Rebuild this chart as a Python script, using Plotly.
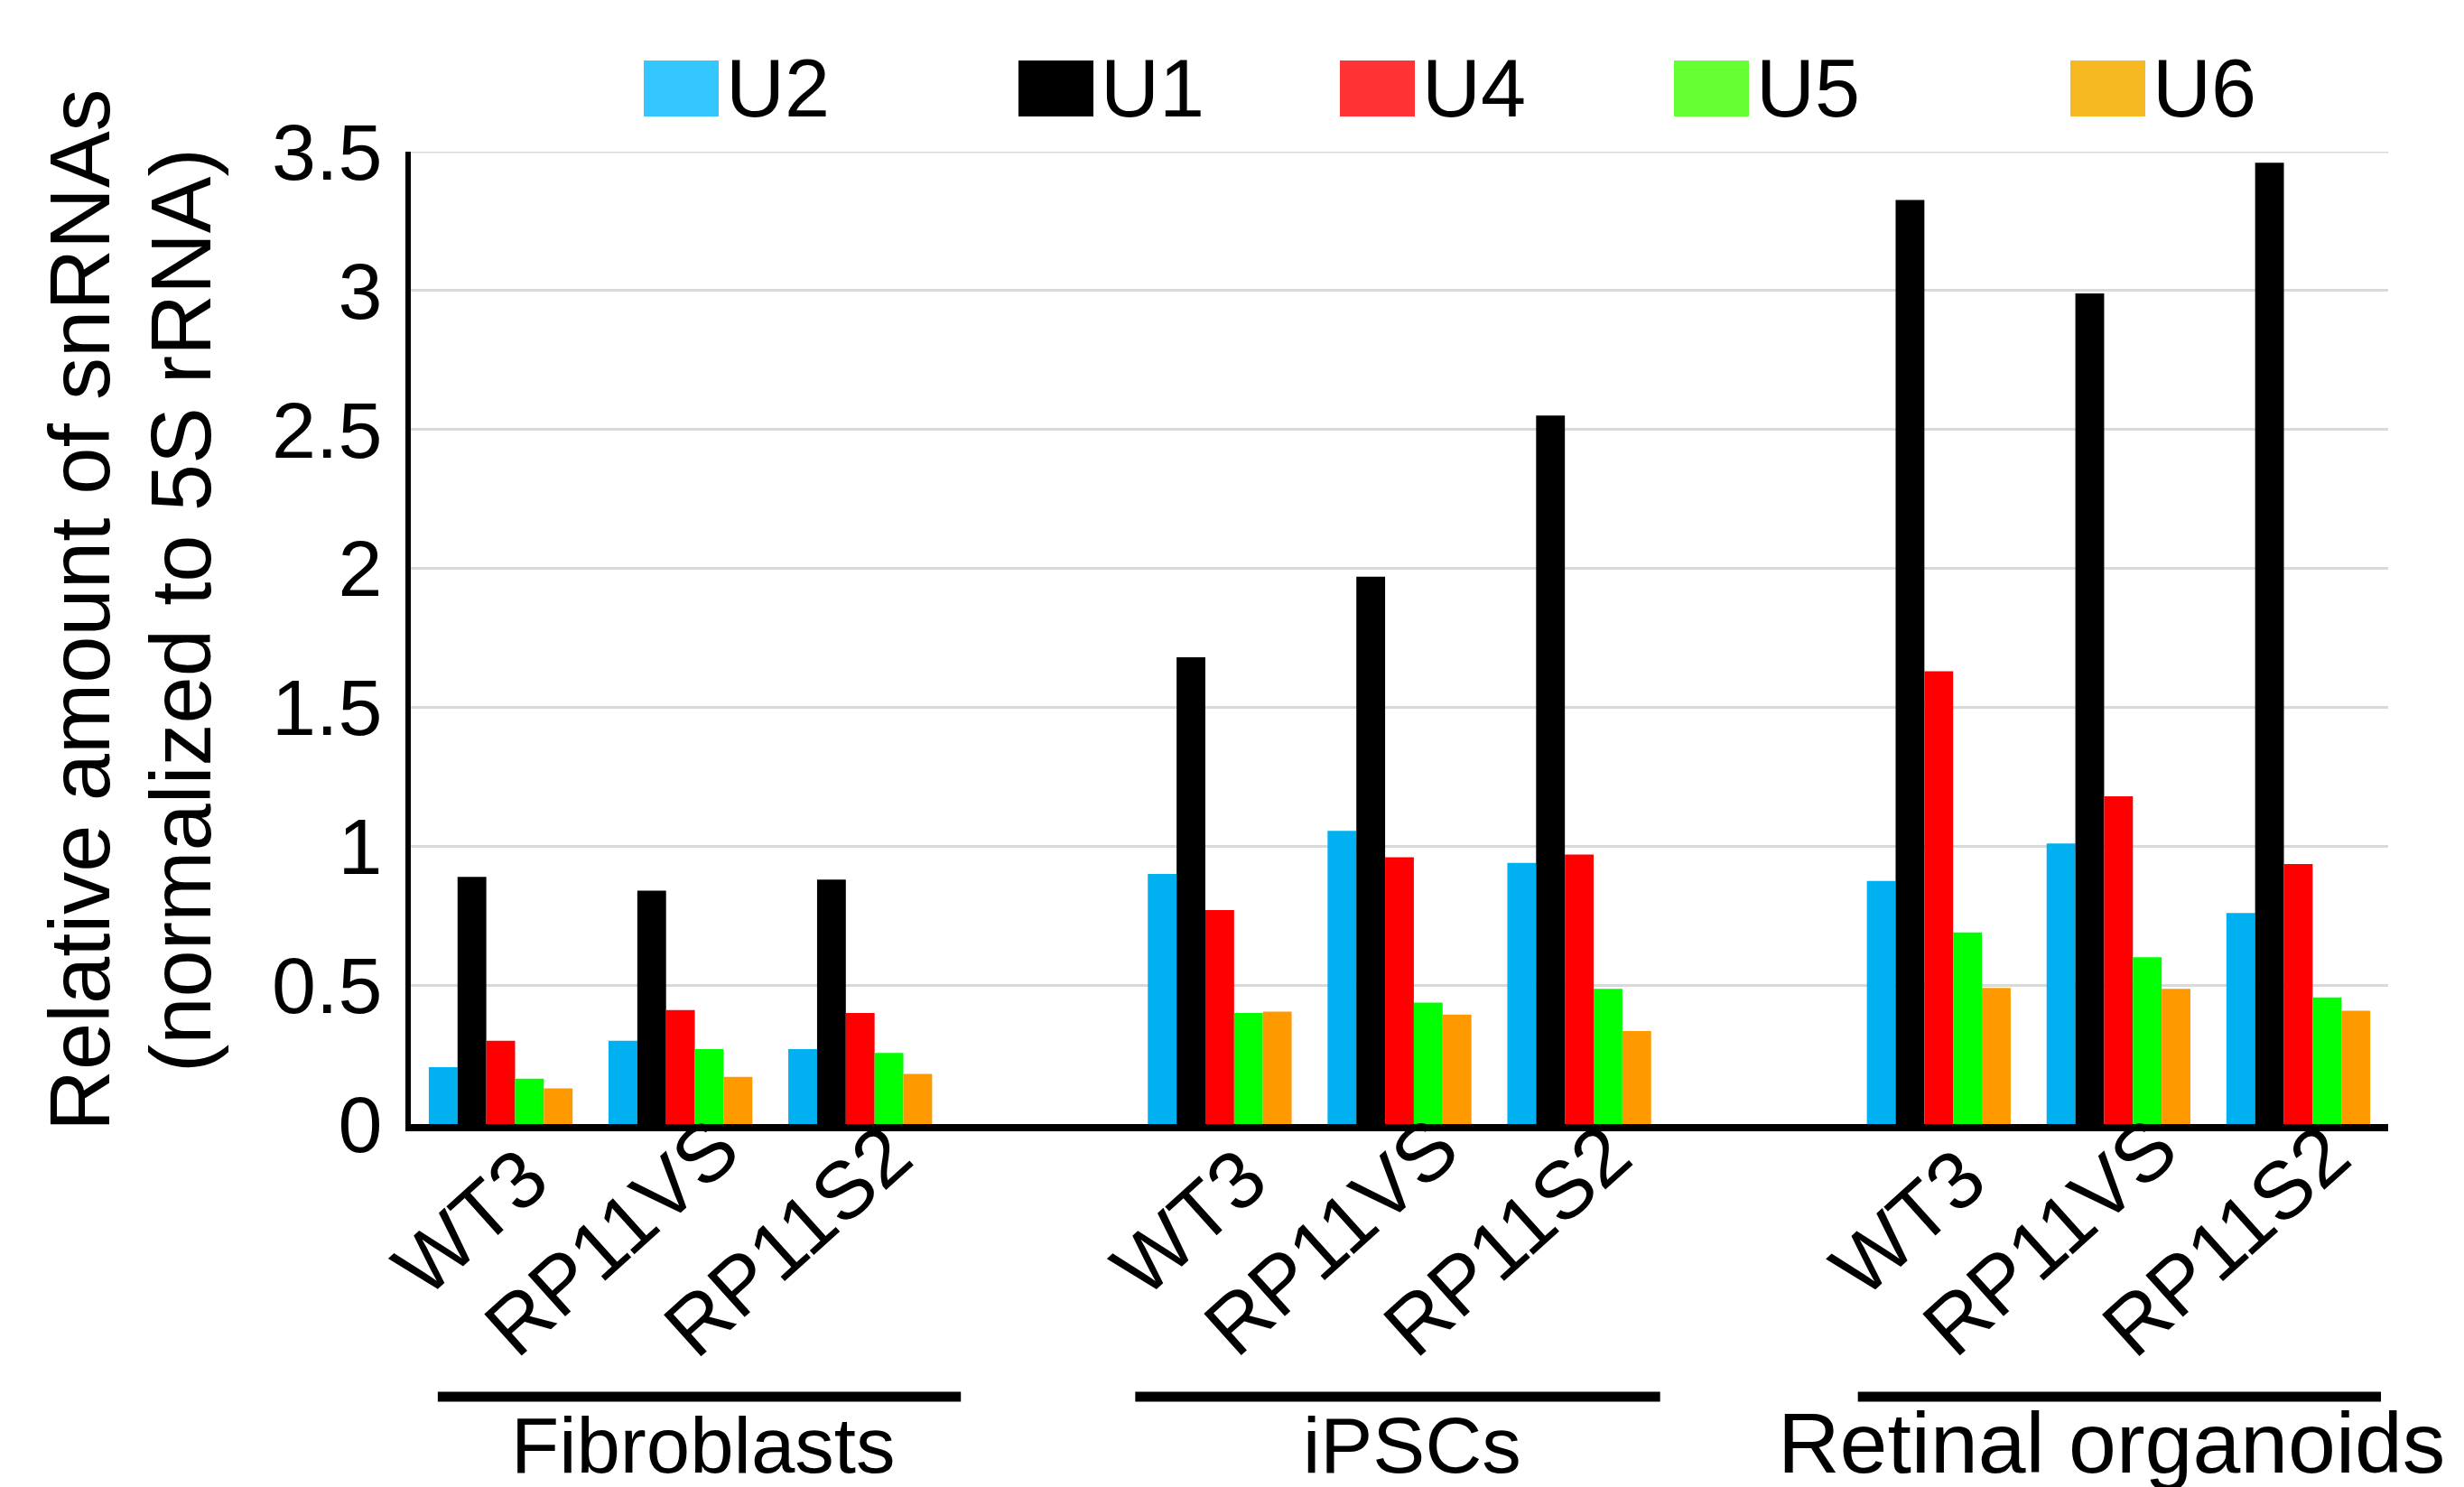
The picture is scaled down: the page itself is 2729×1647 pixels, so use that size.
import plotly.graph_objects as go

# ---------------- data ----------------
groups = ["Fibroblasts", "iPSCs", "Retinal organoids"]
samples = ["WT3", "RP11VS", "RP11S2"]
series_names = ["U2", "U1", "U4", "U5", "U6"]

u2 = [0.205, 0.30, 0.27, 0.90, 1.055, 0.94, 0.875, 1.01, 0.76]
u1 = [0.89, 0.84, 0.88, 1.68, 1.97, 2.55, 3.326, 2.99, 3.46]
u4 = [0.30, 0.41, 0.40, 0.77, 0.96, 0.97, 1.63, 1.18, 0.936]
u5 = [0.163, 0.27, 0.256, 0.40, 0.437, 0.487, 0.69, 0.60, 0.456]
u6 = [0.128, 0.17, 0.18, 0.405, 0.394, 0.335, 0.49, 0.487, 0.408]
y_ticks = [0, 0.5, 1, 1.5, 2, 2.5, 3, 3.5]

# ---------------- styles ----------------
bar_colors = ["#00B0F0", "#000000", "#FF0000", "#00FF00", "#FF9900"]
legend_colors = ["#33C6FF", "#000000", "#FF3333", "#66FF33", "#F5B820"]
FONT = "Liberation Sans, Arial, sans-serif"

W_FIG, H_FIG = 2729, 1647
L, R, T, B = 447, 2637, 160, 1237
PW, PH = R - L, B - T

def px_x(p):
    return (p - L) / PW

def px_y(p):
    return (B - p) / PH

# category positions: 3 per group, one empty slot between groups
xpos = []
xlab = []
for g in range(len(groups)):
    for i, s in enumerate(samples):
        xpos.append(g * 4 + i)
        xlab.append(s)

fig = go.Figure()
for name, vals, col in zip(series_names, [u2, u1, u4, u5, u6], bar_colors):
    fig.add_trace(go.Bar(x=xpos, y=vals, name=name, marker=dict(color=col, line=dict(width=0)),
                         showlegend=False))

annotations = []
shapes = []

# top gridline at 3.5
shapes.append(dict(type="line", xref="paper", yref="y", x0=0, x1=1, y0=y_ticks[-1], y1=y_ticks[-1],
                   line=dict(color="#D9D9D9", width=3), layer="below"))

# rotated sample labels
label_dx = [-34, -76, -80]
label_y = [1346, 1362, 1366]
for k, (xp, lab) in enumerate(zip(xpos, xlab)):
    i = k % 3
    annotations.append(dict(x=xp, y=0, xref="x", yref="paper", text=lab, showarrow=False,
                            textangle=-42, xanchor="center", yanchor="middle",
                            xshift=label_dx[i], yshift=B - label_y[i],
                            font=dict(family=FONT, size=90, color="black")))

# group lines and labels
line_spans = [(-0.35, 2.56), (3.53, 6.45), (7.55, 10.46)]
group_label_x = [1.127, 5.07, 8.958]
group_sizes = [87, 87, 95]
group_label_y = [1592, 1592, 1590]
for (x0, x1), gx, gname, gs, gy in zip(line_spans, group_label_x, groups, group_sizes, group_label_y):
    shapes.append(dict(type="line", xref="x", yref="paper", x0=x0, x1=x1,
                       y0=px_y(1539), y1=px_y(1539), line=dict(color="black", width=11)))
    annotations.append(dict(x=gx, y=px_y(gy), xref="x", yref="paper", text=gname,
                            showarrow=False, xanchor="center", yanchor="middle",
                            font=dict(family=FONT, size=gs, color="black")))

# manual legend
sw_x = [705, 1120, 1476, 1846, 2285]
sw_w, sw_top, sw_bot = 83, 59, 121
for sx, name, col in zip(sw_x, series_names, legend_colors):
    shapes.append(dict(type="rect", xref="paper", yref="paper",
                       x0=px_x(sx), x1=px_x(sx + sw_w), y0=px_y(sw_bot), y1=px_y(sw_top),
                       fillcolor=col, line=dict(width=0)))
    annotations.append(dict(x=px_x(sx + sw_w + 6), y=px_y(90), xref="paper", yref="paper",
                            text=name, showarrow=False, xanchor="left", yanchor="middle",
                            font=dict(family=FONT, size=90, color="black")))

# y-axis title (two lines)
title_lines = ["Relative amount of snRNAs", "(normalized to 5S rRNA)"]
title_x = [80, 192]
for txt, tx in zip(title_lines, title_x):
    annotations.append(dict(x=px_x(tx), y=px_y(668), xref="paper", yref="paper",
                            text=txt, showarrow=False, textangle=-90,
                            xanchor="center", yanchor="middle",
                            font=dict(family=FONT, size=94, color="black")))

fig.update_layout(
    width=W_FIG, height=H_FIG,
    margin=dict(l=L, r=W_FIG - R, t=T, b=H_FIG - B, pad=0),
    paper_bgcolor="white", plot_bgcolor="white",
    barmode="group", bargap=0.2, bargroupgap=0,
    showlegend=False,
    font=dict(family=FONT, color="black"),
    xaxis=dict(range=[-0.5, 10.5], showticklabels=False, showgrid=False, zeroline=False,
               showline=True, linecolor="black", linewidth=8, ticks=""),
    yaxis=dict(range=[0, 3.5], tickvals=y_ticks, ticktext=[f"{v:g}" for v in y_ticks],
               showgrid=True, gridcolor="#D9D9D9", gridwidth=3, zeroline=False,
               showline=True, linecolor="black", linewidth=6, ticks="",
               ticklabelstandoff=8, tickfont=dict(family=FONT, size=88, color="black")),
    annotations=annotations,
    shapes=shapes,
)

fig.write_html("out.html")
